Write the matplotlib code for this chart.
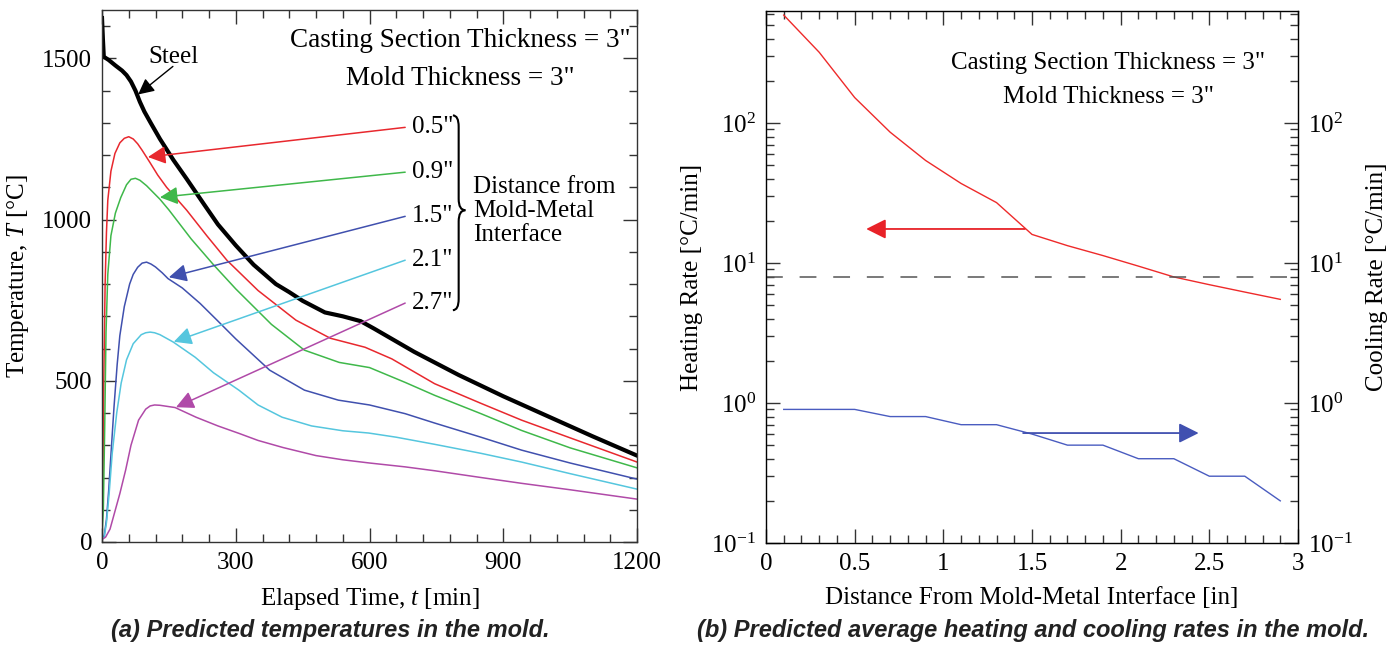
import numpy as np
import matplotlib
matplotlib.use('Agg')
import matplotlib.pyplot as plt
from matplotlib.path import Path
from matplotlib.patches import PathPatch
from matplotlib.ticker import MultipleLocator, LogLocator, NullFormatter

plt.rcParams['font.family'] = ['Liberation Serif', 'DejaVu Serif']
plt.rcParams['mathtext.fontset'] = 'custom'
plt.rcParams['mathtext.rm'] = 'Liberation Serif'
plt.rcParams['mathtext.it'] = 'Liberation Serif:italic'

# ---------------- data: panel (a) ----------------
steel_t = [0, 2, 4, 15, 30, 45, 55, 65, 75, 85, 95, 110, 130, 160, 190, 230, 260, 300, 340,
           390, 420, 450, 500, 540, 580, 610, 700, 800, 900, 1000, 1100, 1200]
steel_T = [1625, 1560, 1505, 1495, 1478, 1462, 1448, 1428, 1400, 1365, 1335, 1298, 1250,
           1185, 1126, 1045, 985, 920, 860, 800, 775, 748, 712, 700, 685, 662, 590, 518,
           452, 390, 328, 268]

red_t = [0, 2, 4, 7, 10, 13, 20, 29, 40, 50, 60, 70, 80, 90, 108, 125, 145, 190, 235, 280,
         350, 435, 512, 590, 650, 746, 850, 941, 1050, 1200]
red_T = [15, 200, 500, 800, 960, 1060, 1150, 1205, 1238, 1252, 1257, 1250, 1235, 1215,
         1176, 1138, 1100, 1029, 950, 874, 780, 688, 632, 604, 568, 491, 430, 378, 323, 248]

green_t = [0, 3, 6, 9, 13, 20, 30, 42, 55, 65, 75, 85, 100, 130, 150, 200, 250, 300, 380,
           454, 532, 600, 680, 746, 850, 941, 1050, 1200]
green_T = [15, 100, 350, 650, 830, 950, 1020, 1068, 1108, 1125, 1128, 1122, 1105, 1063,
           1030, 940, 860, 785, 675, 595, 557, 541, 495, 455, 398, 346, 292, 230]

blue_t = [0, 5, 10, 15, 20, 27, 34, 40, 50, 62, 70, 80, 90, 100, 110, 120, 135, 148, 180,
          220, 258, 300, 376, 454, 530, 600, 680, 746, 850, 941, 1050, 1200]
blue_T = [10, 20, 70, 160, 270, 420, 550, 640, 730, 800, 830, 852, 865, 868, 862, 853,
          835, 817, 788, 740, 688, 630, 533, 471, 440, 425, 398, 369, 325, 285, 245, 195]

cyan_t = [0, 5, 10, 16, 23, 33, 43, 55, 70, 88, 98, 108, 118, 130, 160, 209, 250, 307,
          350, 404, 470, 540, 598, 660, 746, 850, 941, 1050, 1200]
cyan_T = [8, 15, 60, 150, 276, 400, 493, 565, 615, 643, 649, 651, 649, 643, 620, 573,
          525, 471, 425, 387, 360, 345, 338, 325, 303, 275, 248, 212, 164]

mag_t = [0, 8, 18, 28, 40, 53, 65, 82, 98, 108, 118, 130, 164, 211, 260, 307, 350, 406,
         480, 540, 600, 680, 746, 850, 941, 1050, 1200]
mag_T = [8, 15, 40, 90, 150, 223, 300, 378, 412, 422, 425, 424, 417, 387, 360, 337, 315,
         293, 268, 255, 245, 233, 221, 200, 182, 162, 133]

series_labels = ['0.5"', '0.9"', '1.5"', '2.1"', '2.7"']
series_colors = ['#e8282e', '#3fb84a', '#4050ae', '#55c6de', '#b04aa8']
label_T = [1286, 1147, 1010, 874, 741]          # label heights (°C) at right
arrow_tip_t = [103, 130, 150, 161, 166]
arrow_tip_T = [1194, 1069, 821, 621, 418]

# ---------------- data: panel (b) ----------------
dist = [0.1, 0.3, 0.5, 0.7, 0.9, 1.1, 1.3, 1.5, 1.7, 1.9, 2.1, 2.3, 2.5, 2.7, 2.9]
heating = [590, 320, 152, 86, 54, 37, 27, 16, 13.3, 11.3, 9.5, 7.95, 7.0, 6.2, 5.5]
cooling = [0.9, 0.9, 0.9, 0.8, 0.8, 0.7, 0.7, 0.6, 0.5, 0.5, 0.4, 0.4, 0.3, 0.3, 0.2]
threshold = 8.0

W, H = 1396, 646
fig = plt.figure(figsize=(W / 100, H / 100), dpi=100)

FS = 18
FS_NOTE = 19.5
spine_c = '#333333'

def style_ticks(ax):
    ax.tick_params(which='both', direction='in', top=True, right=True,
                   labelsize=FS, width=1, color=spine_c)
    ax.tick_params(which='major', length=10, pad=7)
    ax.tick_params(which='minor', length=6)
    for s in ax.spines.values():
        s.set_linewidth(1)
        s.set_color(spine_c)

# ---------------- panel (a) ----------------
ax = fig.add_axes([102 / W, 1 - 542 / H, (637 - 102) / W, (542 - 10) / H])
curves = [(red_t, red_T), (green_t, green_T), (blue_t, blue_T), (cyan_t, cyan_T), (mag_t, mag_T)]
for (tt, TT), c in zip(curves, series_colors):
    ax.plot(tt, TT, color=c, lw=1.1)
ax.plot(steel_t, steel_T, color='black', lw=3)

ax.set_xlim(0, 1200)
ax.set_ylim(0, 1650)
ax.xaxis.set_major_locator(MultipleLocator(300))
ax.xaxis.set_minor_locator(MultipleLocator(60))
ax.yaxis.set_major_locator(MultipleLocator(500))
ax.yaxis.set_minor_locator(MultipleLocator(100))
style_ticks(ax)
ax.set_xlabel('Elapsed Time, $t$ [min]', fontsize=FS, labelpad=9)
ax.set_ylabel('Temperature, $T$ [°C]', fontsize=FS, labelpad=8)

for lab, c, ly, tx, ty in zip(series_labels, series_colors, label_T, arrow_tip_t, arrow_tip_T):
    ax.annotate('', xy=(tx, ty), xytext=(680, ly),
                arrowprops=dict(arrowstyle='-|>,head_length=0.6,head_width=0.3',
                                color=c, lw=1.1, mutation_scale=18,
                                shrinkA=0, shrinkB=0))
    ax.text(695, ly, lab, fontsize=FS, ha='left', va='center')

# brace
xl, xm, xt = 787, 800, 815
yt, yb, ym, d = 1323, 719, 1029, 35
verts = [(xl, yt), (xm, yt), (xm, yt - d), (xm, ym + d), (xm, ym), (xt, ym),
         (xm, ym), (xm, ym - d), (xm, yb + d), (xm, yb), (xl, yb)]
codes = [Path.MOVETO, Path.CURVE3, Path.CURVE3, Path.LINETO, Path.CURVE3, Path.CURVE3,
         Path.CURVE3, Path.CURVE3, Path.LINETO, Path.CURVE3, Path.CURVE3]
ax.add_patch(PathPatch(Path(verts, codes), fill=False, lw=1.5, color='black'))
ax.text(832, 1026, 'Distance from\nMold-Metal\nInterface', fontsize=FS,
        ha='left', va='center', linespacing=1.12)

ax.text(103, 1503, 'Steel', fontsize=FS, ha='left', va='center')
ax.annotate('', xy=(81, 1388), xytext=(159, 1475),
            arrowprops=dict(arrowstyle='-|>,head_length=0.6,head_width=0.3',
                            color='black', lw=1, mutation_scale=16,
                            shrinkA=0, shrinkB=0))
ax.text(803, 1555, 'Casting Section Thickness = 3"', fontsize=FS_NOTE, ha='center', va='center')
ax.text(803, 1438, 'Mold Thickness = 3"', fontsize=FS_NOTE, ha='center', va='center')

# ---------------- panel (b) ----------------
bx = fig.add_axes([766 / W, 1 - 543 / H, (1298 - 766) / W, (543 - 11) / H])
bx.set_yscale('log')
bx.plot(dist, heating, color='#ee2a2a', lw=1)
bx.axhline(threshold, color='#555555', lw=1.1, dashes=(11, 11))
bx.set_xlim(0, 3)
bx.set_ylim(0.1, 631)
bx.xaxis.set_major_locator(MultipleLocator(0.5))
bx.xaxis.set_minor_locator(MultipleLocator(0.1))
bx.yaxis.set_major_locator(LogLocator(base=10, numticks=10))
bx.yaxis.set_minor_locator(LogLocator(base=10, subs=np.arange(2, 10), numticks=10))
bx.yaxis.set_minor_formatter(NullFormatter())
style_ticks(bx)
bx.xaxis.set_major_formatter(matplotlib.ticker.FuncFormatter(lambda v, p: f'{v:g}'))
bx.set_xlabel('Distance From Mold-Metal Interface [in]', fontsize=FS, labelpad=9)
bx.set_ylabel('Heating Rate [°C/min]', fontsize=FS, labelpad=6)

bx2 = bx.twinx()
bx2.set_yscale('log')
bx2.set_ylim(0.1, 631)
bx2.plot(dist, cooling, color='#4a5cc0', lw=1)
bx2.yaxis.set_major_locator(LogLocator(base=10, numticks=10))
bx2.yaxis.set_minor_locator(LogLocator(base=10, subs=np.arange(2, 10), numticks=10))
bx2.yaxis.set_minor_formatter(NullFormatter())
bx2.tick_params(which='both', direction='in', labelsize=FS, width=1, color=spine_c)
bx2.tick_params(which='major', length=10, pad=7)
bx2.tick_params(which='minor', length=6)
bx2.set_ylabel('Cooling Rate [°C/min]', fontsize=FS, labelpad=10)

bx.annotate('', xy=(0.565, 17.5), xytext=(1.46, 17.5),
            arrowprops=dict(arrowstyle='-|>,head_length=0.6,head_width=0.3',
                            color='#e82228', lw=1.3, mutation_scale=20,
                            shrinkA=0, shrinkB=0))
bx2.annotate('', xy=(2.44, 0.61), xytext=(1.45, 0.61),
             arrowprops=dict(arrowstyle='-|>,head_length=0.6,head_width=0.3',
                             color='#4050b0', lw=1.3, mutation_scale=20,
                             shrinkA=0, shrinkB=0))
bx.text(1.93, 269, 'Casting Section Thickness = 3"', fontsize=FS, ha='center', va='center')
bx.text(1.93, 153, 'Mold Thickness = 3"', fontsize=FS, ha='center', va='center')

# captions
cap_font = dict(family='Liberation Sans', weight='bold', style='italic', fontsize=17)
fig.text(330 / W, 1 - 630 / H, '(a) Predicted temperatures in the mold.',
         ha='center', va='center', color='#222222', **cap_font)
fig.text(1033 / W, 1 - 630 / H, '(b) Predicted average heating and cooling rates in the mold.',
         ha='center', va='center', color='#222222', **cap_font)

fig.savefig('out.png', dpi=100)
